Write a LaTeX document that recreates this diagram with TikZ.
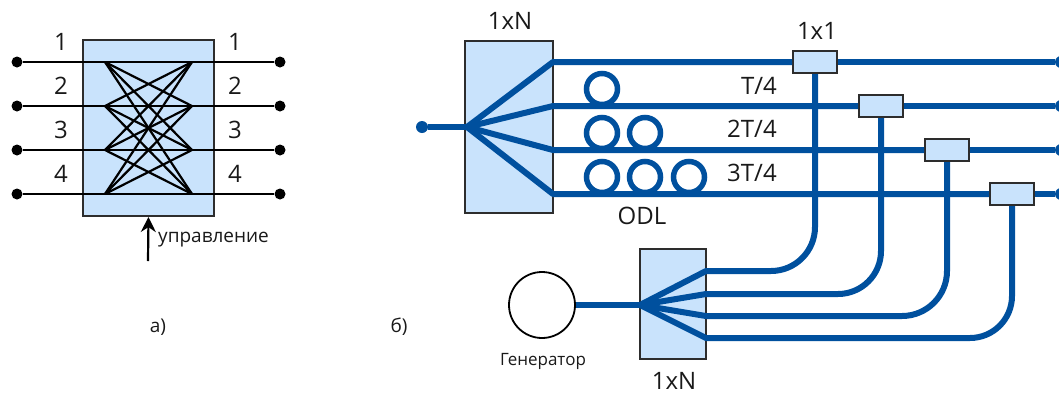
\documentclass[tikz,border=0pt]{standalone}
\usepackage{fontspec}
\setmainfont{Open Sans}
\usetikzlibrary{arrows.meta}
\definecolor{fiberblue}{RGB}{0,80,158}
\definecolor{boxfill}{RGB}{201,227,252}
\definecolor{boxline}{RGB}{45,45,45}

\begin{document}
\begin{tikzpicture}[
    x=1pt, y=-1pt,
    box/.style={rectangle, draw=boxline, fill=boxfill, line width=2pt, inner sep=0pt},
    coupler/.style={box, minimum width=44pt, minimum height=22pt},
    dot/.style={circle, fill=black, inner sep=0pt, minimum size=11pt},
    fdot/.style={circle, fill=fiberblue, inner sep=0pt, minimum size=12pt},
    wire/.style={line width=2.2pt, black},
    fiber/.style={line width=6pt, fiberblue, line join=round},
    lab/.style={inner sep=0pt, font=\fontsize{24}{28}\selectfont, text=black!90},
    small/.style={inner sep=0pt, font=\fontsize{19}{23}\selectfont, text=black!90}
  ]
    \useasboundingbox (0,0) rectangle (1059,394);

    \node[box, minimum width=131pt, minimum height=176pt] (sw) at (148.5,128) {};
    \foreach \n/\y in {1/62,2/106,3/150,4/194} {
      \node[dot] (in\n) at (17,\y) {};
      \node[dot] (out\n) at (280,\y) {};
      \coordinate (swl\n) at (105,\y);
      \coordinate (swr\n) at (192,\y);
      \draw[wire] (in\n) -- (out\n);
      \node[lab] (num\n) at (61,\y-20) {\n};
      \node[lab] (mun\n) at (235,\y-20) {\n};
    }
    \foreach \i in {1,...,4} {
      \foreach \j in {1,...,4} {
        \draw[wire] (swl\i) -- (swr\j);
      }
    }
    \coordinate (ctrl) at (148,261);
    \draw[wire, -{Stealth[length=15pt, width=15pt]}] (ctrl) -- (sw.south);
    \node[small, anchor=west] (ctrltxt) at (158,240) {управление};
    \node[small] (capa) at (158,327) {а)};
    \node[small] (capb) at (399,327) {б)};

    \node[box, minimum width=88pt, minimum height=172pt] (split) at (509,127) {};
    \node[lab] (splittxt) at (510,21) {1xN};
    \node[fdot] (src) at (422,127) {};
    \coordinate (apex) at (467,127);
    \draw[fiber] (src) -- (apex);
    \foreach \n/\x/\y in {1/815/62,2/881/106,3/947/150,4/1012/194} {
      \node[coupler] (cpl\n) at (\x,\y) {};
      \node[fdot] (end\n) at (1061,\y) {};
      \coordinate (fan\n) at (553,\y);
      \draw[fiber] (apex) -- (fan\n) -- (cpl\n.west);
      \draw[fiber] (cpl\n.east) -- (end\n);
    }
    \node[lab] (cpltxt) at (817,31) {1x1};

    \foreach \n/\x/\y in {a/602/89,b/602/133,c/645/133,d/602/177,e/645/177,f/689/177} {
      \node[circle, draw=fiberblue, line width=5.5pt, minimum size=31pt, inner sep=0pt] (odl\n) at (\x,\y) {};
    }
    \node[lab] (odltxt) at (642,216) {ODL};
    \node[lab] (dly1) at (759,86) {T/4};
    \node[lab] (dly2) at (752,129) {2T/4};
    \node[lab] (dly3) at (752,173) {3T/4};

    \node[box, minimum width=66pt, minimum height=110pt] (drv) at (673,304) {};
    \node[lab] (drvtxt) at (674,381) {1xN};
    \node[circle, draw=black, fill=white, line width=1.8pt, minimum size=66pt, inner sep=0pt] (gen) at (542,305) {};
    \node[inner sep=0pt, font=\fontsize{17}{20}\selectfont, text=black!90] (gentxt) at (543,361) {Генератор};
    \coordinate (drvapex) at (640,305);
    \draw[fiber] (gen) -- (drvapex);
    \foreach \n/\y/\xa/\xb in {1/271/771/815,2/294/838/881,3/316/902/947,4/338/970/1012} {
      \coordinate (dout\n) at (706,\y);
      \coordinate (bend\n) at (\xa,\y);
      \draw[fiber] (drvapex) -- (dout\n) -- (bend\n) arc[start angle=90, end angle=0, radius=\xb-\xa] -- (cpl\n.south);
    }
  \end{tikzpicture}
\end{document}
